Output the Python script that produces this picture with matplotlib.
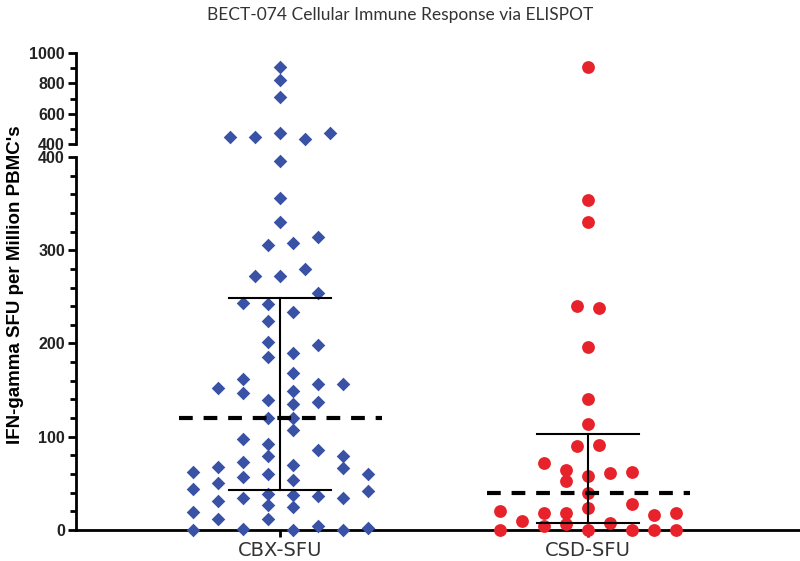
import numpy as np
import matplotlib
matplotlib.use("Agg")
import matplotlib.pyplot as plt
from matplotlib.ticker import MultipleLocator

# data
groups = ["CBX-SFU", "CSD-SFU"]

# CBX: column slot (beeswarm offset) and value
cbx_slot = [0, 0, 0, 0, -2, -1, 1, 2,
            0, 0, 0, -0.5, 0.5, 1.5, -1, 0, 1, 1.5, -1.5, -0.5, 0.5, -0.5,
            -0.5, -0.5, 0.5, 1.5, 0.5, -1.5, -2.5, -1.5, 1.5, 2.5, 0.5,
            -0.5, 0.5, 1.5, 0.5, -0.5, 0.5, -1.5, -0.5, -0.5, 1.5, 2.5, 2.5,
            -1.5, -2.5, -3.5, -1.5, -0.5, 0.5, 0.5, 3.5, -3.5, -2.5, -2.5,
            -1.5, -0.5, -0.5, 0.5, 0.5, 1.5, 2.5, 3.5, -3.5, -2.5, -0.5,
            -3.5, -1.5, 0.5, 1.5, 2.5, 3.5]
cbx_val = [910, 822, 712, 474, 444, 444, 433, 470,
           396, 356, 330, 306, 308, 314, 272, 272, 280, 254, 243, 242, 234, 224,
           202, 186, 190, 198, 168, 162, 152, 147, 157, 157, 149,
           139, 135, 137, 120, 120, 107, 98, 92, 79, 86, 79, 66,
           73, 67, 62, 57, 60, 70, 54, 60, 44, 50, 31,
           34, 39, 27, 38, 25, 36, 34, 42, 19, 12, 12,
           0, 1, 0, 4, 0, 2]

csd_slot = [0, 0, 0, -0.5, 0.5, 0, 0, 0, -0.5, 0.5, -2, -1, -1, 0, 1, 2,
            0, 0, 2, -4, -3, -2, -1, 3, 4, 1, -1, -2, -4, 0, 2, 3, 4]
csd_val = [909, 354, 330, 240, 238, 196, 140, 114, 90, 91, 72, 64, 52, 58, 61, 62,
           40, 24, 28, 20, 10, 18, 18, 16, 18, 7, 6, 4, 0, 0, 0, 0, 0]

# mean (dashed) and error bar ends
means = [120, 40]
err_low = [43, 8]
err_high = [249, 103]

slot_width = [0.0812, 0.0715]
blue = "#3a52a5"
red = "#e8222a"

fig = plt.figure(figsize=(8, 5.61), dpi=100)
ax_lo = fig.add_axes([0.095, 0.0553, 0.905, 0.6649])
ax_hi = fig.add_axes([0.095, 0.7433, 0.905, 0.1622])

cbx_x = np.array(cbx_slot) * slot_width[0]
csd_x = 1 + np.array(csd_slot) * slot_width[1]
cbx_val = np.array(cbx_val)
csd_val = np.array(csd_val)

for ax, lo, hi in ((ax_lo, 0, 400), (ax_hi, 400.5, 1000)):
    m1 = (cbx_val >= lo) & (cbx_val <= hi)
    m2 = (csd_val >= lo) & (csd_val <= hi)
    ax.scatter(cbx_x[m1], cbx_val[m1], marker="D", s=48, color=blue, lw=0, clip_on=False, zorder=3)
    ax.scatter(csd_x[m2], csd_val[m2], marker="o", s=85, color=red, lw=0, clip_on=False, zorder=3)
    ax.set_xlim(-0.664, 1.688)
    for s in ["top", "right"]:
        ax.spines[s].set_visible(False)
    ax.spines["left"].set_linewidth(2)
    ax.tick_params(axis="y", which="major", length=6, width=2, labelsize=11.5, pad=2)
    ax.tick_params(axis="y", which="minor", length=4, width=2)

# mean and error bars on the lower panel
for i in range(2):
    ax_lo.plot([i - 0.33, i + 0.33], [means[i]] * 2, color="black", lw=3,
               linestyle=(0, (3.3, 2.6)), zorder=4)
    ax_lo.plot([i, i], [err_low[i], err_high[i]], color="black", lw=1.5, zorder=4)
    for yv in (err_low[i], err_high[i]):
        ax_lo.plot([i - 0.166, i + 0.166], [yv, yv], color="black", lw=1.5, zorder=4)

ax_lo.set_ylim(0, 400)
ax_lo.yaxis.set_major_locator(MultipleLocator(100))
ax_lo.yaxis.set_minor_locator(MultipleLocator(20))
ax_lo.spines["bottom"].set_linewidth(2)
ax_lo.set_xticks([0, 1])
ax_lo.set_xticklabels(groups, fontsize=14, color="#333333")
ax_lo.tick_params(axis="x", length=5, width=2, pad=3)

ax_hi.set_ylim(400, 1000)
ax_hi.yaxis.set_major_locator(MultipleLocator(200))
ax_hi.yaxis.set_minor_locator(MultipleLocator(100))
ax_hi.spines["bottom"].set_visible(False)
ax_hi.set_xticks([])

for ax in (ax_lo, ax_hi):
    for lab in ax.get_yticklabels():
        lab.set_fontweight("bold")
        lab.set_family("Liberation Sans")
        lab.set_color("#222222")

fig.text(0.5, 0.973, "BECT-074 Cellular Immune Response via ELISPOT", ha="center", va="center",
         fontsize=12.5, color="#333333", family="Lato")
fig.text(0.019, 0.492, "IFN-gamma SFU per Million PBMC's", rotation=90, ha="center", va="center",
         fontsize=13.5, fontweight="bold", family="Liberation Sans")

plt.savefig("out.png", dpi=100)
